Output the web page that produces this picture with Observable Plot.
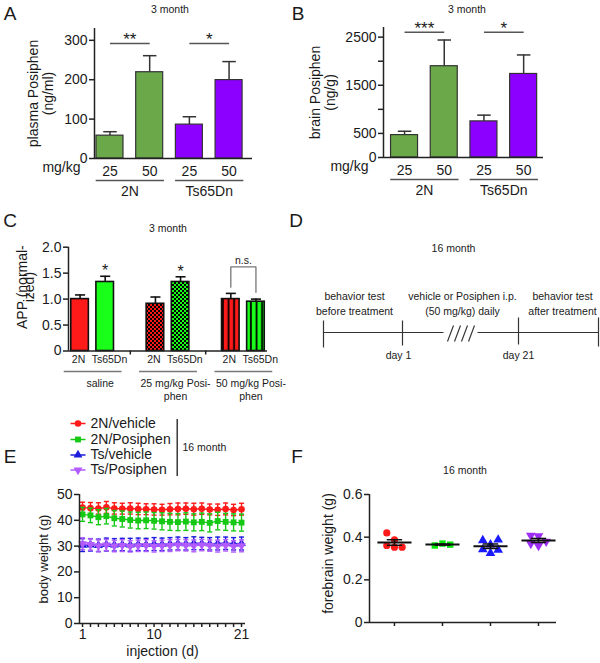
<!DOCTYPE html>
<html>
<head>
<meta charset="utf-8">
<script src="https://cdn.jsdelivr.net/npm/d3@7"></script>
<script src="https://cdn.jsdelivr.net/npm/@observablehq/plot@0.6"></script>
<style>
  html,body{margin:0;padding:0;background:#fff;}
  #fig{position:relative;width:600px;height:663px;overflow:hidden;background:#fff;font-family:"Liberation Sans",Arial,Helvetica,sans-serif;color:#1a1a1a;}
  .lbl{position:absolute;white-space:nowrap;line-height:1;}
</style>
</head>
<body>
<svg width="0" height="0" style="position:absolute">
  <defs>
    <pattern id="chkR" width="4" height="4" patternUnits="userSpaceOnUse">
      <rect width="4" height="4" fill="#ff1a1a"/>
      <rect width="2" height="2" fill="#000"/>
      <rect x="2" y="2" width="2" height="2" fill="#000"/>
    </pattern>
    <pattern id="chkG" width="4" height="4" patternUnits="userSpaceOnUse">
      <rect width="4" height="4" fill="#1aff1a"/>
      <rect width="2" height="2" fill="#000"/>
      <rect x="2" y="2" width="2" height="2" fill="#000"/>
    </pattern>
    <pattern id="strR" width="5.6" height="10" patternUnits="userSpaceOnUse">
      <rect width="5.6" height="10" fill="#ff1a1a"/>
      <rect x="3.6" width="1.8" height="10" fill="#000"/>
    </pattern>
    <pattern id="strG" width="5.6" height="10" patternUnits="userSpaceOnUse">
      <rect width="5.6" height="10" fill="#1aff1a"/>
      <rect x="3.6" width="1.8" height="10" fill="#000"/>
    </pattern>
  </defs>
</svg>
<div id="fig"></div>
<script>
// ================= DATA =================
// Panels A / B
const doses = ["25", "50", "25", "50"];
const doseStrain = ["2N", "2N", "Ts65Dn", "Ts65Dn"];
const strainGroups = ["2N", "Ts65Dn"];
const plasmaMean = [58, 219, 86, 199];
const plasmaSem = [10, 42, 20, 47];
const brainMean = [465, 1896, 750, 1735];
const brainSem = [80, 544, 130, 395];
const plasmaSig = [{a: 0, b: 1, label: "**"}, {a: 2, b: 3, label: "*"}];
const brainSig = [{a: 0, b: 1, label: "***"}, {a: 2, b: 3, label: "*"}];
const plasmaTicks = [0, 100, 200, 300];
const brainTicks = [0, 500, 1000, 1500, 2000, 2500];
const brainTickLabels = ["0", "500", "", "1500", "", "2500"];

// Panel C
const appTreat = ["saline", "25 mg/kg Posi-\nphen", "50 mg/kg Posi-\nphen"];
const appStrain = ["2N", "Ts65Dn"];
const appMean = [1.00, 1.33, 0.91, 1.33, 1.00, 0.95];
const appSem = [0.08, 0.11, 0.13, 0.10, 0.11, 0.05];
const appStar = ["", "*", "", "*", "", ""];
const appTicks = [0, 0.5, 1.0, 1.5, 2.0];
const appTickLabels = ["0", "0.5", "1.0", "1.5", "2.0"];

// Panel D
const dTitle = "16 month";
const dPhases = ["behavior test\nbefore treatment", "vehicle or Posiphen i.p.\n(50 mg/kg) daily", "behavior test\nafter treatment"];
const dDays = ["day 1", "day 21"];

// Panel E
const injDays = [1,2,3,4,5,6,7,8,9,10,11,12,13,14,15,16,17,18,19,20,21];
const injDayLabels = [1, 10, 21];
const eSeries = ["2N/vehicle", "2N/Posiphen", "Ts/vehicle", "Ts/Posiphen"];
const bw2NVeh    = [44.9,44.7,44.6,45.0,44.6,44.5,44.6,44.4,44.3,44.2,44.1,44.3,44.4,44.5,44.3,44.5,44.2,44.1,44.4,44.0,44.3];
const bw2NVehSem = [2.1,2.2,2.2,2.3,2.2,2.1,2.2,2.2,2.1,2.2,2.1,2.2,2.3,2.2,2.3,2.2,2.1,2.2,2.3,2.2,2.3];
const bw2NPos    = [42.3,41.9,41.2,41.6,40.8,40.5,40.1,39.9,40.0,39.8,39.6,39.4,39.3,39.5,39.2,39.4,39.0,39.7,39.4,39.2,39.1];
const bw2NPosSem = [2.7,2.8,2.9,3.0,3.0,3.1,3.1,3.2,3.2,3.2,3.3,3.3,3.3,3.4,3.3,3.4,3.5,3.4,3.3,3.3,3.3];
const bwTsVeh    = [30.4,30.5,30.3,30.6,30.5,30.6,30.5,30.7,30.6,30.8,30.7,30.9,31.0,30.9,31.1,31.0,30.9,31.0,31.1,30.9,31.0];
const bwTsVehSem = [2.5,2.4,2.4,2.5,2.4,2.4,2.5,2.4,2.4,2.5,2.4,2.4,2.5,2.4,2.5,2.4,2.4,2.5,2.4,2.4,2.5];
const bwTsPos    = [30.9,30.6,30.1,30.4,30.0,30.2,29.9,30.1,30.2,29.9,30.1,30.2,30.4,30.3,30.1,30.4,30.2,30.0,30.3,29.9,30.1];
const bwTsPosSem = [2.3,2.2,2.3,2.2,2.2,2.3,2.2,2.2,2.3,2.2,2.2,2.3,2.2,2.2,2.3,2.2,2.2,2.3,2.2,2.2,2.3];
const eTicks = [0, 10, 20, 30, 40, 50];

// Panel F
const fw2NVeh = [0.388, 0.353, 0.42, 0.361, 0.353];
const fw2NPos = [0.37, 0.361, 0.365];
const fwTsVeh = [0.365, 0.325, 0.385, 0.342, 0.388, 0.34];
const fwTsPos = [0.405, 0.36, 0.408, 0.38, 0.37];
const fTicks = [0, 0.2, 0.4, 0.6];
const fTickLabels = ["0", "0.2", "0.4", "0.6"];

// ================= STYLE / HELPERS =================
const FONT = '"Liberation Sans", Arial, Helvetica, sans-serif';
const INK = "#1a1a1a";
const AX = "#222";
const GREEN_A = "#6aa84a";
const PURPLE_A = "#8c00ff";
const baseStyle = {fontFamily: FONT, fontSize: "14px", color: INK, background: "none", overflow: "visible"};
const fig = document.getElementById("fig");

function mount(node, left, top) {
  node.style.position = "absolute";
  node.style.left = left + "px";
  node.style.top = top + "px";
  fig.appendChild(node);
}
function addText(str, x, y, size) {
  const d = document.createElement("div");
  d.className = "lbl";
  d.textContent = str;
  d.style.left = x + "px";
  d.style.top = y + "px";
  d.style.fontSize = size + "px";
  d.style.transform = "translate(-50%,-50%)";
  fig.appendChild(d);
}
const sqrt3 = Math.sqrt(3);
const triangleDown = {
  draw(context, size) {
    const y = -Math.sqrt(size / (sqrt3 * 3));
    context.moveTo(0, -y * 2);
    context.lineTo(-sqrt3 * y, y);
    context.lineTo(sqrt3 * y, y);
    context.closePath();
  }
};

// ================= PANELS A & B =================
function dosePanel(o) {
  const bars = o.means.map((m, i) => ({i, m, e: o.sems[i], dose: doses[i], strain: doseStrain[i]}));
  const groups = strainGroups.map((g, k) => ({g, a: 2 * k, b: 2 * k + 1}));
  return Plot.plot({
    width: 300, height: 200,
    marginLeft: o.ml, marginRight: o.mr, marginTop: o.mt, marginBottom: o.mb,
    x: {domain: [o.x0, o.x1], axis: null},
    y: {domain: [0, o.yMax]},
    color: {type: "identity"},
    style: baseStyle,
    marks: [
      Plot.ruleX(bars, {x: "i", y1: "m", y2: d => d.m + d.e, stroke: "#333", strokeWidth: 1.5}),
      Plot.link(bars, {x1: d => d.i - 0.17, x2: d => d.i + 0.17, y1: d => d.m + d.e, y2: d => d.m + d.e, stroke: "#333", strokeWidth: 1.5}),
      Plot.rect(bars, {x1: d => d.i - 0.34, x2: d => d.i + 0.34, y1: 0, y2: "m", fill: d => d.strain === "2N" ? GREEN_A : PURPLE_A, stroke: "#333", strokeWidth: 1.2}),
      Plot.ruleX([o.x0], {stroke: AX, strokeWidth: 1.5}),
      Plot.ruleY([0], {stroke: AX, strokeWidth: 1.5}),
      Plot.axisY({ticks: o.ticks, tickFormat: o.tickFormat, tickSize: 5, tickPadding: 2, label: null, fontSize: 14, stroke: AX, strokeWidth: 1.5}),
      Plot.text(bars, {x: "i", y: 0, text: "dose", dy: 13, fontSize: 14}),
      Plot.text(["mg/kg"], {frameAnchor: "bottom-left", dx: o.mgDx, dy: 13, textAnchor: "end", fontSize: 14}),
      Plot.link(groups, {x1: d => d.a - 0.36, x2: d => d.b + 0.36, y1: 0, y2: 0, dy: 22, stroke: "#555", strokeWidth: 1.5}),
      Plot.text(groups, {x: d => (d.a + d.b) / 2, y: 0, text: "g", dy: 33, fontSize: 14}),
      Plot.link(o.sig, {x1: "a", x2: "b", y1: o.sigLevel, y2: o.sigLevel, stroke: "#555", strokeWidth: 1.5}),
      Plot.text(o.sig, {x: d => (d.a + d.b) / 2, y: o.sigLevel, text: "label", dy: -4, fontSize: 17}),
      Plot.text([o.ylabel], {frameAnchor: "left", textAnchor: "middle", dx: o.ylabelDx, rotate: -90, lineHeight: 1.07, fontSize: 14})
    ]
  });
}

mount(dosePanel({
  means: plasmaMean, sems: plasmaSem, sig: plasmaSig, sigLevel: 292,
  ticks: plasmaTicks, tickFormat: d => String(d), yMax: 330,
  ml: 94, mr: 48, mt: 28, mb: 42, x0: -0.39, x1: 3.59,
  mgDx: -14, ylabel: "plasma Posiphen\n(ng/ml)", ylabelDx: -53.5
}), 0, 0);

mount(dosePanel({
  means: brainMean, sems: brainSem, sig: brainSig, sigLevel: 2600,
  ticks: brainTicks, tickFormat: d => brainTickLabels[brainTicks.indexOf(d)], yMax: 2700,
  ml: 83, mr: 57, mt: 27, mb: 43, x0: -0.53, x1: 3.5,
  mgDx: -15, ylabel: "brain Posiphen\n(ng/g)", ylabelDx: -60.5
}), 300, 0);

// ================= PANEL C =================
const appFills = [["#ff1a1a", "#1aff1a"], ["url(#chkR)", "url(#chkG)"], ["url(#strR)", "url(#strG)"]];
const appBars = appMean.map((m, k) => ({
  p: Math.floor(k / 2) * 3 + (k % 2), m, e: appSem[k],
  strain: appStrain[k % 2], star: appStar[k],
  fill: appFills[Math.floor(k / 2)][k % 2]
}));
const appGroups = appTreat.map((t, g) => ({t, g, c: g * 3 + 0.5}));
const nsA = appBars[4], nsB = appBars[5];
const nsTop = 1.62;
const nsPath = [
  {p: nsA.p, v: nsA.m + nsA.e + 0.12}, {p: nsA.p, v: nsTop},
  {p: nsB.p, v: nsTop}, {p: nsB.p, v: nsB.m + nsB.e + 0.13}
];
mount(Plot.plot({
  width: 300, height: 200,
  marginLeft: 68, marginRight: 33, marginTop: 46.7, marginBottom: 49.5,
  x: {domain: [-0.46, 7.46]},
  y: {domain: [0, 2]},
  color: {type: "identity"},
  style: baseStyle,
  marks: [
    Plot.ruleX(appBars, {x: "p", y1: "m", y2: d => d.m + d.e, stroke: "#111", strokeWidth: 1.6}),
    Plot.link(appBars, {x1: d => d.p - 0.2, x2: d => d.p + 0.2, y1: d => d.m + d.e, y2: d => d.m + d.e, stroke: "#111", strokeWidth: 1.6}),
    Plot.rect(appBars, {x1: d => d.p - 0.35, x2: d => d.p + 0.35, y1: 0, y2: "m", fill: "fill", stroke: "#111", strokeWidth: 1.6}),
    Plot.ruleX([-0.46], {stroke: AX, strokeWidth: 1.5}),
    Plot.ruleY([0], {stroke: AX, strokeWidth: 1.5}),
    Plot.axisY({ticks: appTicks, tickFormat: d => appTickLabels[appTicks.indexOf(d)], tickSize: 5, tickPadding: 2, label: null, fontSize: 14, stroke: AX, strokeWidth: 1.5}),
    Plot.axisX({ticks: [2, 5], tickFormat: () => "", tickSize: 4, label: null, stroke: AX, strokeWidth: 1.5}),
    Plot.text(appBars.filter(d => d.star), {x: "p", y: d => d.m + d.e, text: "star", dy: -5, fontSize: 16}),
    Plot.line(nsPath, {x: "p", y: "v", stroke: "#777", strokeWidth: 1.3}),
    Plot.text(["n.s."], {x: (nsA.p + nsB.p) / 2, y: nsTop, dy: -6, fontSize: 10.5}),
    Plot.text(appBars, {x: d => d.p + (d.strain === "2N" ? -0.06 : 0.17), y: 0, text: "strain", dy: 9, fontSize: 10.5}),
    Plot.link(appGroups, {x1: d => d.c - 1.15, x2: d => d.c + 1.15, y1: 0, y2: 0, dy: 20.5, stroke: "#777", strokeWidth: 1.3}),
    Plot.text(appGroups, {x: d => d.c + 0.3, y: 0, text: "t", dy: 27, lineAnchor: "top", lineHeight: 1.2, fontSize: 10.5}),
    Plot.text(["APP (normal-\nized)"], {frameAnchor: "left", textAnchor: "middle", dx: -40, dy: -12, rotate: -90, lineHeight: 0.5, fontSize: 14})
  ]
}), 0, 200);

// ================= PANEL D =================
mount(Plot.plot({
  width: 300, height: 200, margin: 0,
  x: {domain: [0, 300], range: [0, 300], axis: null},
  y: {domain: [0, 200], range: [0, 200], axis: null},
  style: Object.assign({}, baseStyle, {fontSize: "10.5px"}),
  marks: [
    Plot.link([[23, 143], [177, 298]], {x1: d => d[0], x2: d => d[1], y1: 132, y2: 132, stroke: "#333", strokeWidth: 1.2}),
    Plot.link([[23, 120, 147], [102, 120, 145], [218, 117, 144], [298, 117, 146]], {x1: d => d[0], x2: d => d[0], y1: d => d[1], y2: d => d[2], stroke: "#333", strokeWidth: 1.2}),
    Plot.link([147, 154, 161, 168], {x1: d => d, x2: d => d + 6, y1: 141, y2: 125, stroke: "#333", strokeWidth: 1.2}),
    Plot.text([dTitle], {x: 153, y: 48, fontSize: 10.5}),
    Plot.text(dPhases, {x: [54, 162, 262], y: 102.5, lineHeight: 1.43, fontSize: 10.5}),
    Plot.text(dDays, {x: [98, 218], y: 155, fontSize: 10.5})
  ]
}), 300, 200);

// ================= PANEL E =================
const eStyle = [
  {name: eSeries[0], mean: bw2NVeh, sem: bw2NVehSem, color: "#ff1a1a", symbol: "circle"},
  {name: eSeries[1], mean: bw2NPos, sem: bw2NPosSem, color: "#14c814", symbol: "square"},
  {name: eSeries[2], mean: bwTsVeh, sem: bwTsVehSem, color: "#1c1cdc", symbol: "triangle"},
  {name: eSeries[3], mean: bwTsPos, sem: bwTsPosSem, color: "#b25cff", symbol: triangleDown}
];
const eX0 = 0.62, eX1 = 21.5;
mount(Plot.plot({
  width: 300, height: 283,
  marginLeft: 79, marginRight: 55, marginTop: 114, marginBottom: 40,
  x: {domain: [eX0, eX1]},
  y: {domain: [0, 50]},
  style: baseStyle,
  marks: [
    ...eStyle.flatMap(s => {
      const rows = injDays.map((d, j) => ({d, m: s.mean[j], e: s.sem[j]}));
      return [
        Plot.ruleX(rows, {x: "d", y1: r => r.m - r.e, y2: r => r.m + r.e, stroke: s.color, strokeWidth: 1.4}),
        Plot.link(rows, {x1: r => r.d - 0.32, x2: r => r.d + 0.32, y1: r => r.m + r.e, y2: r => r.m + r.e, stroke: s.color, strokeWidth: 1.4}),
        Plot.link(rows, {x1: r => r.d - 0.32, x2: r => r.d + 0.32, y1: r => r.m - r.e, y2: r => r.m - r.e, stroke: s.color, strokeWidth: 1.4}),
        Plot.line(rows, {x: "d", y: "m", stroke: s.color, strokeWidth: 1.4}),
        Plot.dot(rows, {x: "d", y: "m", symbol: s.symbol, fill: s.color, r: 3.3})
      ];
    }),
    Plot.ruleX([eX0], {stroke: AX, strokeWidth: 1.5}),
    Plot.ruleY([0], {stroke: AX, strokeWidth: 1.5}),
    Plot.axisY({ticks: eTicks, tickFormat: d => String(d), tickSize: 5, tickPadding: 2, label: null, fontSize: 14, stroke: AX, strokeWidth: 1.5}),
    Plot.axisX({ticks: injDays, tickFormat: d => injDayLabels.includes(d) ? String(d) : "", tickSize: 4, tickPadding: 2, label: null, fontSize: 14, stroke: AX, strokeWidth: 1.5}),
    Plot.text(["injection (d)"], {frameAnchor: "bottom", dy: 32, fontSize: 14}),
    Plot.text(["body weight (g)"], {frameAnchor: "left", textAnchor: "middle", dx: -36, rotate: -90, fontSize: 13})
  ]
}), 0, 380);

// legend for E
const legendY = [43, 59, 74.5, 89.5];
const legendRows = eStyle.map((s, k) => Object.assign({}, s, {y: legendY[k]}));
mount(Plot.plot({
  width: 300, height: 110, margin: 0,
  x: {domain: [0, 300], range: [0, 300], axis: null},
  y: {domain: [0, 110], range: [0, 110], axis: null},
  style: baseStyle,
  marks: [
    ...legendRows.flatMap(r => [
      Plot.link([r], {x1: 70, x2: 85, y1: r.y, y2: r.y, stroke: r.color, strokeWidth: 1.5}),
      Plot.dot([r], {x: 77.5, y: r.y, symbol: r.symbol, fill: r.color, r: 3.3})
    ]),
    Plot.text(legendRows, {x: 90, y: "y", text: "name", textAnchor: "start", fontSize: 14}),
    Plot.ruleX([176.7], {y1: 39, y2: 96, stroke: INK, strokeWidth: 1.3}),
    Plot.text(["16 month"], {x: 182, y: 66.7, textAnchor: "start", fontSize: 10.5})
  ]
}), 0, 380);

// ================= PANEL F =================
const fValues = [fw2NVeh, fw2NPos, fwTsVeh, fwTsPos];
const fColors = ["#ff1a1a", "#00e600", "#1a1aff", "#9d2cf5"];
const fSymbols = ["circle", "square", "triangle", triangleDown];
const fX0 = -0.52, fX1 = 3.375;
const fPxX = (300 - 69 - 44) / (fX1 - fX0), fPxY = (283 - 114 - 41) / 0.6;
function dodgeOffsets(vals) {
  const placed = [], step = 0.16, minD = 7.2;
  return vals.map(v => {
    for (const k of [0, -1, 1, -2, 2, -3, 3]) {
      const off = k * step;
      if (placed.every(p => Math.hypot((p.off - off) * fPxX, (p.v - v) * fPxY) >= minD)) {
        placed.push({off, v});
        return off;
      }
    }
    return 0;
  });
}
const fStats = fValues.map((vals, gi) => ({gi, mean: d3.mean(vals), sem: d3.deviation(vals) / Math.sqrt(vals.length)}));
mount(Plot.plot({
  width: 300, height: 283,
  marginLeft: 69, marginRight: 44, marginTop: 114, marginBottom: 41,
  x: {domain: [fX0, fX1]},
  y: {domain: [0, 0.6]},
  style: baseStyle,
  marks: [
    ...fValues.map((vals, gi) => {
      const offs = dodgeOffsets(vals);
      const pts = vals.map((v, j) => ({x: gi + offs[j], v}));
      return Plot.dot(pts, {x: "x", y: "v", symbol: fSymbols[gi], fill: fColors[gi], r: 3.6});
    }),
    Plot.link(fStats, {x1: d => d.gi - 0.355, x2: d => d.gi + 0.355, y1: "mean", y2: "mean", stroke: "#111", strokeWidth: 2}),
    Plot.ruleX(fStats, {x: "gi", y1: d => d.mean - d.sem, y2: d => d.mean + d.sem, stroke: "#111", strokeWidth: 1.5}),
    Plot.link(fStats, {x1: d => d.gi - 0.16, x2: d => d.gi + 0.16, y1: d => d.mean + d.sem, y2: d => d.mean + d.sem, stroke: "#111", strokeWidth: 1.5}),
    Plot.link(fStats, {x1: d => d.gi - 0.16, x2: d => d.gi + 0.16, y1: d => d.mean - d.sem, y2: d => d.mean - d.sem, stroke: "#111", strokeWidth: 1.5}),
    Plot.ruleX([fX0], {stroke: AX, strokeWidth: 1.5}),
    Plot.ruleY([0], {stroke: AX, strokeWidth: 1.5}),
    Plot.axisY({ticks: fTicks, tickFormat: d => fTickLabels[fTicks.indexOf(d)], tickSize: 5, tickPadding: 2, label: null, fontSize: 14, stroke: AX, strokeWidth: 1.5}),
    Plot.axisX({ticks: [0, 1, 2, 3], tickFormat: () => "", tickSize: 4, label: null, stroke: AX, strokeWidth: 1.5}),
    Plot.text(["forebrain weight (g)"], {frameAnchor: "left", textAnchor: "middle", dx: -41, dy: -5, rotate: -90, fontSize: 14})
  ]
}), 300, 380);

// ================= LETTERS & TITLES =================
addText("A", 10, 13, 19);
addText("B", 298, 13, 19);
addText("C", 10, 220, 19);
addText("D", 296, 220, 19);
addText("E", 10, 456, 19);
addText("F", 297, 456, 19);
addText("3 month", 170, 9, 10.5);
addText("3 month", 467, 9, 10.5);
addText("3 month", 168, 228, 10.5);
addText("16 month", 465, 470, 10.5);
</script>
</body>
</html>
